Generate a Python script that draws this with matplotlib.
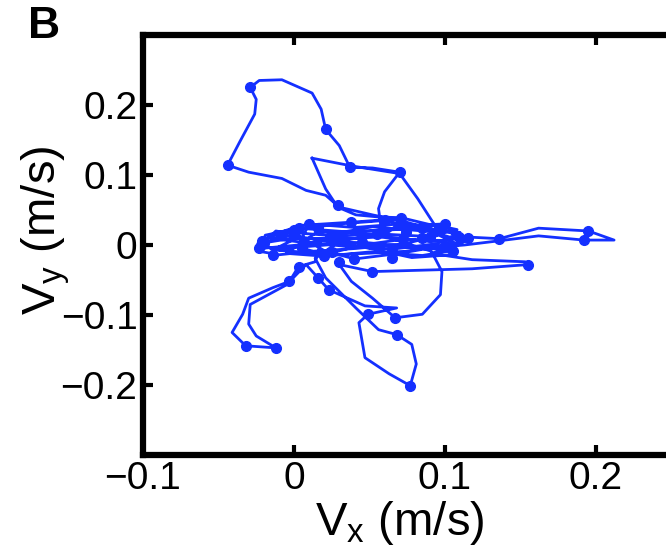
import matplotlib.pyplot as plt

plt.rcParams['font.family'] = ['Liberation Sans', 'DejaVu Sans']
plt.rcParams['mathtext.fontset'] = 'custom'
plt.rcParams['mathtext.rm'] = 'Liberation Sans'
plt.rcParams['mathtext.it'] = 'Liberation Sans'

# velocity trajectory (m/s)
vx = [0.012, 0.021, 0.029, 0.041, 0.056, 0.071, 0.096, 0.109, 0.136, 0.162,
      0.195, 0.212, 0.192, 0.162, 0.136, 0.113, 0.085, 0.052, 0.021, -0.008,
      -0.021, -0.023, -0.010, 0.012, 0.041, 0.074, 0.096, 0.109, 0.091, 0.118,
      0.153, 0.155, 0.118, 0.052, 0.030, 0.038, 0.052, 0.067, 0.085, 0.097,
      0.098, 0.091, 0.065, 0.034, 0.003, -0.019, -0.022, 0.003,
      # dense central band
      0.010, 0.040, 0.070, 0.100, 0.115, 0.090, 0.060, 0.030, 0.000, -0.020,
      -0.015, 0.010, 0.045, 0.080, 0.105, 0.085, 0.050, 0.020, -0.005, 0.015,
      0.050, 0.085, 0.110, 0.095, 0.065, 0.035, 0.005, -0.018, 0.000, 0.030,
      0.060, 0.075, 0.100, 0.112, 0.070, 0.040, 0.020,
      0.002, -0.012, -0.022, -0.008, 0.025, 0.055, 0.090, 0.108, 0.095, 0.060,
      0.028, 0.005, 0.020, 0.045, 0.072, 0.098, 0.104, 0.078, 0.048, 0.018,
      0.014, 0.003,
      -0.003, -0.014, -0.030, -0.034, -0.041, -0.032, -0.012, -0.025, -0.030, -0.029,
      -0.005, 0.008, 0.016, 0.023, 0.047, 0.068, 0.049, 0.043, 0.047, 0.063,
      0.077, 0.081, 0.078, 0.068, 0.056, 0.041, 0.021, 0.014, 0.030, 0.063,
      0.073, 0.041, 0.005, -0.008, 0.021, 0.052, 0.091, 0.113, 0.074, 0.030,
      -0.014, 0.001, 0.041, 0.058, 0.056, 0.060, 0.070, 0.052, 0.037, 0.030,
      0.021, 0.018, 0.012, -0.008, -0.023, -0.029, -0.025, -0.026, -0.036, -0.044,
      -0.030, -0.008, 0.008, 0.021, 0.030, 0.052, 0.074, 0.096, 0.082, 0.070,
      0.038, 0.012]
vy = [0.124, 0.080, 0.054, 0.043, 0.040, 0.039, 0.026, 0.012, 0.009, 0.024,
      0.020, 0.007, 0.007, 0.013, 0.006, 0.000, -0.005, 0.000, 0.007, 0.014,
      0.000, -0.009, -0.014, -0.009, -0.005, 0.002, 0.014, 0.000, -0.012, -0.021,
      -0.024, -0.028, -0.034, -0.038, -0.028, -0.052, -0.076, -0.104, -0.099, -0.071,
      -0.038, -0.009, 0.009, 0.019, 0.024, 0.014, -0.005, 0.000,
      # dense central band
      0.030, 0.025, 0.030, 0.020, 0.010, 0.005, 0.012, 0.008, 0.010, 0.003,
      -0.006, -0.002, 0.004, -0.003, -0.008, -0.015, -0.010, -0.016, -0.012, 0.018,
      0.020, 0.024, 0.018, 0.002, -0.006, -0.002, 0.004, 0.010, 0.022, 0.030,
      0.035, 0.028, 0.030, 0.004, -0.012, -0.020, -0.008,
      0.015, 0.020, 0.000, -0.008, 0.012, 0.016, 0.012, 0.022, 0.028, 0.022,
      0.016, -0.004, -0.014, 0.000, 0.008, 0.006, -0.014, -0.018, -0.004, 0.006,
      -0.024, -0.031,
      -0.052, -0.061, -0.076, -0.099, -0.125, -0.144, -0.147, -0.130, -0.113, -0.085,
      -0.057, -0.028, -0.047, -0.064, -0.087, -0.090, -0.099, -0.111, -0.161, -0.184,
      -0.201, -0.170, -0.142, -0.128, -0.121, -0.090, -0.047, -0.019, 0.005, 0.019,
      0.038, 0.033, 0.028, 0.019, 0.014, 0.026, 0.019, 0.005, -0.009, -0.014,
      -0.007, 0.009, 0.009, 0.019, 0.052, 0.076, 0.104, 0.110, 0.111, 0.142,
      0.165, 0.194, 0.217, 0.236, 0.235, 0.225, 0.208, 0.187, 0.147, 0.114,
      0.104, 0.095, 0.078, 0.071, 0.054, 0.043, 0.033, 0.019, 0.066, 0.102,
      0.113, 0.124]

# dots along the trajectory
vx_dots = [-0.029, 0.021, -0.044, 0.037, 0.070, 0.029, 0.071, 0.096, 0.109, 0.136,
           0.195, 0.192, 0.155, 0.052, 0.003, -0.003, 0.016, 0.023, 0.049, 0.067,
           0.068, 0.077, -0.032, -0.012, -0.023, -0.021, -0.008, 0.003, 0.016, 0.038,
           0.056, 0.065, 0.030, 0.085, 0.100, -0.014, 0.025, 0.074,
           0.010, 0.070, 0.115, -0.020, 0.045, 0.105, 0.020, 0.085, 0.065, 0.000,
           0.060, 0.100, 0.040, -0.022, 0.055, 0.090, 0.005, 0.072]
vy_dots = [0.225, 0.165, 0.114, 0.111, 0.104, 0.057, 0.039, 0.024, 0.012, 0.009,
           0.020, 0.007, -0.028, -0.038, -0.031, -0.052, -0.047, -0.064, -0.099, -0.104,
           -0.128, -0.201, -0.144, -0.147, -0.005, 0.005, 0.014, 0.024, 0.024, 0.033,
           -0.005, -0.019, -0.024, 0.010, 0.000, -0.014, -0.010, 0.019,
           0.030, 0.030, 0.010, 0.003, 0.004, -0.008, -0.016, 0.024, -0.006, 0.022,
           0.035, 0.030, -0.020, 0.000, 0.016, 0.012, -0.004, 0.008]

xticks = [-0.1, 0, 0.1, 0.2]
xtick_labels = ['\u22120.1', '0', '0.1', '0.2']
yticks = [-0.2, -0.1, 0, 0.1, 0.2]
ytick_labels = ['\u22120.2', '\u22120.1', '0', '0.1', '0.2']

blue = '#1430ff'

fig = plt.figure(figsize=(6.66, 5.55), dpi=100)
ax = fig.add_axes([0.2147, 0.1802, 0.7935, 0.7568])

ax.plot(vx, vy, color=blue, lw=2.0)
ax.plot(vx_dots, vy_dots, 'o', color=blue, ms=7)

ax.set_xlim(-0.1, 0.25)
ax.set_ylim(-0.3, 0.3)
ax.set_xticks(xticks)
ax.set_xticklabels(xtick_labels)
ax.set_yticks(yticks)
ax.set_yticklabels(ytick_labels)
ax.tick_params(direction='in', top=True, right=False, length=7, width=3,
               labelsize=28, pad=4)
for s in ax.spines.values():
    s.set_linewidth(4.5)

fig.text(400 / 666, 1 - 535 / 555, r'V$_\mathrm{x}$ (m/s)', fontsize=34,
         ha='center', va='baseline')
fig.text(56 / 666, 1 - 230 / 555, r'V$_\mathrm{y}$ (m/s)', fontsize=34,
         ha='center', va='baseline', rotation=90, rotation_mode='anchor')
fig.text(44 / 666, 1 - 27 / 555, 'B', fontsize=32, fontweight='bold',
         ha='center', va='center')

fig.savefig('out.png', dpi=100)
